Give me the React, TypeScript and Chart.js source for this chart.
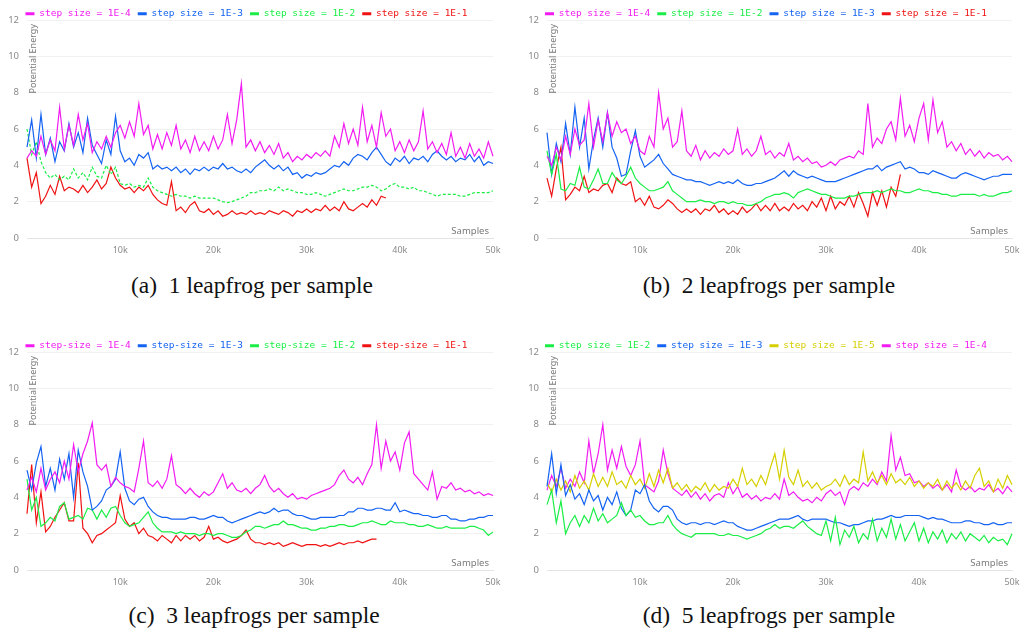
import React, { useEffect, useRef } from 'react';
import { Chart, registerables } from 'chart.js';
Chart.register(...registerables);

// sample spacing between the recorded points
const STEP = 500;
const X_TICKS = [10000, 20000, 30000, 40000, 50000];
const Y_MIN = 0;
const Y_MAX = 12;
const Y_STEP = 2;

const MAG = '#f21cf2';
const BLUE = '#1463f2';
const GREEN = '#1aee46';
const RED = '#f01212';
const YELLOW = '#d6cf00';

// (a) 1 leapfrog per sample
const A_M = [4.4,4.8,4.5,5.6,4.6,5.4,4.8,7.2,4.9,6.2,
 5.1,6.8,5.4,6.3,4.7,5.3,4.9,5.6,5.0,5.8,
 6.2,5.5,6.4,5.6,7.4,5.7,6.2,4.9,5.7,4.9,
 5.8,5.1,6.2,4.9,5.4,4.7,5.6,4.8,5.3,4.8,
 5.6,4.9,5.4,6.8,5.2,6.5,8.5,5.0,5.4,4.8,
 5.3,4.7,5.1,4.6,5.2,4.4,4.7,4.2,4.5,4.3,
 4.6,4.4,4.7,4.5,4.8,4.5,5.6,5.0,6.3,5.2,
 6.0,5.1,7.2,5.3,6.2,5.0,6.9,5.6,6.0,4.8,
 5.3,4.7,5.4,4.8,5.3,7.0,4.9,5.3,4.7,5.2,
 4.6,5.8,4.5,5.0,4.4,5.2,4.5,4.9,4.4,5.3,
 4.5,5.0,4.8];
const A_B = [5.0,6.5,4.4,6.8,4.6,5.5,4.2,5.3,4.8,6.3,
 5.0,5.8,4.7,6.6,5.1,4.6,4.1,5.4,4.6,6.7,
 4.8,4.2,4.4,4.0,4.6,4.4,4.7,3.8,4.0,3.8,
 3.9,3.7,3.9,3.6,3.8,3.5,3.8,3.7,3.9,3.7,
 3.9,3.8,4.1,3.8,3.9,3.7,3.6,3.8,3.6,3.9,
 4.1,4.3,4.0,3.8,4.0,3.7,3.9,3.5,3.6,3.3,
 3.5,3.4,3.6,3.5,3.6,3.8,4.0,3.9,4.2,4.0,
 4.4,4.6,4.5,4.3,4.7,5.0,4.6,4.2,4.0,4.4,
 4.2,4.5,4.1,4.4,4.3,4.5,4.2,4.6,4.8,4.5,
 4.3,4.5,4.2,4.4,4.3,4.6,4.2,4.5,4.0,4.2,
 4.1,4.3,4.4];
const A_G = [6.0,4.6,5.3,4.2,3.6,3.3,3.5,3.2,3.4,3.2,
 3.8,3.3,3.6,3.2,3.9,3.4,3.3,4.0,3.5,3.9,
 3.0,2.9,3.0,2.8,2.9,2.8,3.3,2.8,2.6,2.5,
 2.4,2.3,2.4,2.3,2.3,2.2,2.3,2.2,2.2,2.2,
 2.2,2.1,2.0,1.95,2.0,2.1,2.2,2.3,2.5,2.5,
 2.6,2.6,2.7,2.6,2.8,2.6,2.7,2.6,2.5,2.5,
 2.4,2.4,2.5,2.4,2.3,2.4,2.5,2.6,2.7,2.6,
 2.6,2.7,2.8,2.8,2.9,2.8,2.6,2.7,2.9,3.0,
 2.8,2.8,2.7,2.8,2.6,2.6,2.5,2.4,2.3,2.4,
 2.4,2.4,2.4,2.3,2.3,2.4,2.5,2.5,2.5,2.5,
 2.6,2.6,2.6];
const A_R = [4.4,2.8,3.6,1.9,2.3,2.9,2.4,3.4,2.6,2.8,
 2.7,2.5,2.9,2.5,2.8,3.2,2.7,3.0,3.9,3.3,
 2.9,2.7,2.8,2.5,2.8,2.6,2.9,2.4,2.1,1.9,
 1.8,3.1,1.5,1.7,1.4,1.8,2.0,1.5,1.4,1.6,
 1.3,1.5,1.2,1.3,1.5,1.3,1.4,1.3,1.5,1.3,
 1.4,1.3,1.5,1.4,1.3,1.5,1.4,1.2,1.5,1.4,
 1.6,1.4,1.6,1.5,1.8,1.5,1.7,1.5,2.0,1.6,
 1.5,1.7,1.9,1.7,2.1,1.8,2.3,2.2];

// (b) 2 leapfrogs per sample
const B_M = [4.5,4.0,5.0,4.3,5.6,4.6,6.0,5.1,5.4,7.4,
 5.0,6.5,5.3,6.9,5.6,6.4,5.8,6.0,5.2,5.6,
 4.8,4.6,5.6,5.0,8.0,6.0,6.6,5.0,5.3,7.0,
 4.8,4.5,5.1,4.3,4.8,4.4,4.7,4.5,4.9,4.6,
 4.8,6.0,4.6,4.9,4.5,4.8,5.6,4.6,4.8,4.4,
 4.7,4.5,5.2,4.3,4.5,4.2,4.4,4.1,4.2,3.9,
 4.0,4.2,4.0,4.3,4.4,4.5,4.4,4.8,4.6,7.4,
 5.0,5.5,5.2,6.0,6.4,5.4,7.7,5.6,6.2,5.3,
 6.6,7.4,5.4,7.6,5.8,6.4,5.0,5.3,4.8,5.2,
 4.6,4.9,4.5,4.8,4.4,4.7,4.5,4.6,4.3,4.5,
 4.2,4.4,4.3];
const B_G = [4.8,3.5,4.6,2.7,2.6,3.0,2.9,3.9,2.8,2.7,
 3.2,3.8,3.0,3.0,3.6,3.2,3.0,3.4,3.9,3.3,
 3.0,2.8,2.6,2.6,2.7,2.8,3.1,2.6,2.4,2.2,
 2.0,2.0,2.0,2.1,2.0,2.0,1.9,2.0,2.0,1.9,
 2.0,1.9,1.9,1.8,1.8,1.9,2.0,2.2,2.3,2.4,
 2.4,2.5,2.4,2.2,2.5,2.6,2.7,2.6,2.5,2.4,
 2.4,2.3,2.2,2.2,2.2,2.3,2.3,2.4,2.5,2.5,
 2.5,2.6,2.5,2.6,2.7,2.6,2.6,2.5,2.5,2.6,
 2.7,2.6,2.6,2.5,2.5,2.4,2.4,2.3,2.3,2.4,
 2.4,2.4,2.4,2.3,2.4,2.3,2.3,2.4,2.5,2.5,
 2.6,2.7,2.8];
const B_B = [5.8,3.5,5.2,4.2,6.3,4.6,7.2,5.0,6.6,3.8,
 5.4,6.6,5.0,6.9,5.0,4.4,3.4,3.5,4.8,5.9,
 4.5,3.9,4.1,4.3,4.6,4.1,3.8,3.5,3.4,3.3,
 3.2,3.2,3.1,3.1,3.0,2.9,3.0,3.1,3.0,3.1,
 3.0,3.2,3.0,2.9,2.9,3.0,3.0,3.1,3.2,3.3,
 3.5,3.7,3.4,3.7,3.5,3.4,3.3,3.4,3.3,3.2,
 3.1,3.1,3.1,3.2,3.3,3.4,3.5,3.6,3.7,3.8,
 3.8,4.0,3.7,3.9,4.0,4.1,4.2,3.8,3.9,3.8,
 3.6,3.6,3.5,3.7,3.6,3.5,3.4,3.3,3.3,3.5,
 3.6,3.5,3.4,3.3,3.2,3.3,3.4,3.4,3.5,3.5,
 3.5,3.6,3.6];
const B_R = [3.3,2.3,3.8,5.0,2.1,2.4,2.8,2.6,3.4,2.5,
 2.7,2.6,2.9,3.0,2.5,3.3,3.0,2.9,3.1,2.0,
 2.2,1.8,2.3,1.7,1.6,1.8,2.1,1.9,1.6,1.4,
 1.6,1.4,1.6,1.3,1.6,1.5,1.8,1.4,1.6,1.3,
 1.5,1.3,1.7,1.4,1.6,1.9,1.5,1.8,1.5,1.9,
 1.5,1.7,1.5,1.9,1.6,1.8,1.5,2.0,1.7,2.2,
 1.5,2.3,1.6,2.0,1.8,2.3,1.7,2.5,1.9,1.2,
 2.5,1.8,2.6,1.7,2.8,2.3,3.5];

// (c) 3 leapfrogs per sample
const C_M = [4.4,5.1,4.3,5.6,4.4,5.0,5.4,4.8,6.0,5.0,
 6.9,5.4,6.4,7.1,8.1,5.8,5.5,5.8,4.6,5.1,
 4.8,4.6,4.5,4.3,5.6,7.1,4.8,4.6,4.9,4.5,
 5.0,6.3,4.7,4.5,4.2,4.5,4.2,4.0,4.3,4.1,
 4.3,4.8,5.3,4.5,4.8,4.4,4.3,4.5,4.2,4.5,
 4.7,5.2,4.6,4.3,4.5,4.2,4.0,4.2,3.9,4.0,
 3.9,4.1,4.2,4.3,4.4,4.5,4.7,5.2,5.5,5.0,
 4.8,5.1,4.7,5.3,5.8,8.0,5.6,7.1,6.0,6.5,
 5.5,7.0,7.6,5.3,5.0,4.7,4.4,5.4,3.9,4.6,
 4.5,4.8,4.4,4.5,4.3,4.4,4.2,4.3,4.1,4.2,
 4.1,4.3,4.6];
const C_B = [5.5,4.4,5.9,6.8,4.6,5.6,4.4,6.1,5.0,6.4,
 4.0,6.6,5.4,4.6,3.3,3.5,3.8,4.4,4.6,5.0,
 6.5,4.5,3.8,3.6,3.9,4.0,3.5,3.2,3.0,2.9,
 2.9,2.8,2.8,2.8,2.8,2.9,2.9,2.8,2.8,2.9,
 3.0,2.9,2.9,2.7,2.6,2.7,2.8,2.9,3.0,3.1,
 3.2,3.1,3.2,3.4,3.2,3.3,3.3,3.1,3.0,3.0,
 2.9,2.8,2.8,2.9,2.9,2.9,2.9,3.0,3.0,3.2,
 3.2,3.4,3.4,3.3,3.3,3.4,3.4,3.3,3.3,3.7,
 3.2,3.3,3.2,3.1,3.1,3.0,3.0,2.9,2.9,3.0,
 3.0,2.8,2.8,2.7,2.7,2.8,2.8,2.9,2.9,3.0,
 3.0,3.0,3.0];
const C_G = [5.0,3.3,4.0,2.4,2.6,2.9,2.7,3.5,3.7,2.8,
 2.9,3.0,2.8,3.4,3.3,2.8,3.3,2.9,3.4,3.5,
 3.0,2.6,2.4,2.5,2.6,2.9,3.2,2.6,2.3,2.1,
 2.1,2.1,2.0,2.1,2.0,2.0,2.0,1.9,2.0,2.0,
 1.9,2.0,2.0,1.9,1.8,1.8,1.9,2.1,2.2,2.4,
 2.4,2.3,2.4,2.5,2.5,2.7,2.5,2.5,2.4,2.3,
 2.3,2.2,2.2,2.3,2.3,2.4,2.4,2.5,2.5,2.4,
 2.4,2.5,2.6,2.6,2.7,2.6,2.5,2.5,2.7,2.6,
 2.6,2.6,2.5,2.5,2.4,2.4,2.5,2.4,2.3,2.3,
 2.4,2.3,2.3,2.3,2.3,2.4,2.4,2.3,2.2,1.9,
 2.1,2.1,2.1];
const C_R = [3.1,5.8,2.6,4.3,2.1,2.4,2.9,3.3,3.7,2.7,
 2.7,5.9,2.3,2.0,1.5,1.9,2.0,2.2,2.4,2.6,
 4.1,2.8,2.4,2.6,2.0,2.3,1.9,1.8,1.6,1.9,
 1.7,1.5,1.9,1.6,1.9,1.7,1.9,1.6,1.8,2.4,
 1.7,1.8,1.6,1.5,1.6,1.7,1.9,2.2,1.7,1.5,
 1.5,1.4,1.5,1.4,1.5,1.3,1.4,1.5,1.4,1.3,
 1.4,1.4,1.4,1.3,1.4,1.3,1.4,1.5,1.4,1.5,
 1.5,1.6,1.5,1.6,1.7,1.7];

// (d) 5 leapfrogs per sample
const D_G = [3.6,4.4,2.6,3.8,2.0,2.6,3.0,2.4,3.0,2.6,
 3.4,2.7,3.1,2.6,2.8,3.0,3.7,3.0,3.3,2.9,
 3.0,2.7,2.5,2.5,2.6,2.6,3.0,2.5,2.2,2.0,
 1.9,1.8,2.0,2.0,2.0,2.0,2.0,1.9,1.9,2.0,
 1.9,1.9,1.8,1.7,1.8,1.9,2.0,2.2,2.3,2.5,
 2.3,2.4,2.4,2.3,2.5,2.7,2.4,2.2,2.0,1.9,
 2.7,1.6,2.9,1.4,2.2,1.8,2.4,1.5,2.0,1.7,
 2.8,1.6,2.3,1.8,2.8,1.7,2.5,1.6,2.1,2.6,
 1.6,2.3,1.5,2.1,1.7,2.2,1.5,2.0,1.7,2.1,
 1.6,2.0,1.8,1.6,1.9,1.5,1.8,1.6,1.7,1.4,
 2.0,1.5,2.0];
const D_B = [4.6,6.4,4.2,5.8,4.1,4.7,3.9,4.2,3.6,4.4,
 3.8,4.1,3.3,4.0,3.6,4.3,3.4,3.0,3.3,4.4,
 4.2,4.7,3.8,3.4,3.2,3.5,3.5,3.3,2.8,2.6,
 2.5,2.6,2.6,2.5,2.6,2.6,2.5,2.6,2.7,2.6,
 2.6,2.4,2.3,2.2,2.2,2.3,2.4,2.5,2.6,2.7,
 2.8,2.8,2.8,2.9,3.0,2.8,2.7,2.8,2.8,2.8,
 2.8,2.7,2.6,2.6,2.5,2.4,2.5,2.5,2.6,2.7,
 2.7,2.8,2.8,2.9,3.0,2.9,2.9,3.0,3.0,3.0,
 3.0,2.9,2.8,2.9,2.8,2.8,2.7,2.6,2.6,2.6,
 2.7,2.7,2.6,2.6,2.5,2.5,2.6,2.5,2.5,2.6,
 2.6,2.6,2.7];
const D_Y = [4.8,4.3,5.0,4.4,4.9,4.3,5.2,4.5,4.9,4.4,
 5.3,4.6,5.1,4.6,5.4,4.7,4.9,4.5,5.2,4.7,
 5.0,4.5,5.3,4.6,5.5,4.8,5.6,4.5,4.8,4.4,
 4.7,4.3,4.6,4.4,4.8,4.3,4.7,4.4,4.6,4.5,
 5.0,4.6,5.6,4.7,5.0,4.6,5.2,4.7,5.6,6.4,
 5.0,6.6,5.1,4.7,5.5,4.6,4.9,4.5,4.8,4.4,
 4.6,4.7,5.0,4.6,5.2,4.7,5.0,4.8,6.5,4.9,
 5.4,4.8,5.2,4.7,5.3,4.8,5.0,4.7,5.1,4.6,
 4.9,4.5,4.8,4.6,5.0,4.4,4.9,4.5,4.8,4.4,
 4.9,4.5,5.2,5.6,4.6,4.9,4.3,5.0,4.5,5.2,
 4.7,5.3,4.9];
const D_M = [4.4,5.2,4.6,5.6,4.5,5.0,4.6,5.4,4.8,7.1,
 5.3,6.4,8.0,5.5,6.6,5.6,6.8,5.7,5.2,5.8,
 7.1,4.7,4.5,4.3,4.9,6.6,5.3,4.5,4.3,4.1,
 4.4,4.0,4.3,3.9,4.2,3.8,4.1,4.2,4.0,4.8,
 4.2,4.6,4.0,4.2,3.9,4.1,3.8,4.0,3.9,4.2,
 3.9,5.0,4.1,4.3,4.0,3.8,3.9,3.7,4.0,3.8,
 4.2,4.4,4.1,4.3,3.6,4.4,4.6,4.4,4.8,4.6,
 5.0,4.7,5.4,4.9,7.4,5.5,6.2,5.2,5.3,4.8,
 4.9,4.6,4.8,4.5,4.7,4.4,4.7,4.3,5.5,4.6,
 4.4,4.6,4.3,4.5,4.4,4.7,4.3,4.5,4.2,4.6,
 4.3,4.4,4.3];

type Series = { label: string; values: number[]; color: string; dash?: number[] };

const PANELS: { left: number; top: number; width: number; capX: number; capY: number; caption: string; series: Series[] }[] = [
  { left: 0, top: 0, width: 510, capX: 252, capY: 285, caption: '(a)\u00a0 1 leapfrog per sample', series: [
    { label: 'step size = 1E-4', values: A_M, color: MAG },
    { label: 'step size = 1E-3', values: A_B, color: BLUE },
    { label: 'step size = 1E-2', values: A_G, color: GREEN, dash: [3, 2] },
    { label: 'step size = 1E-1', values: A_R, color: RED },
  ] },
  { left: 520, top: 0, width: 509, capX: 769, capY: 285, caption: '(b)\u00a0 2 leapfrogs per sample', series: [
    { label: 'step size = 1E-4', values: B_M, color: MAG },
    { label: 'step size = 1E-2', values: B_G, color: GREEN },
    { label: 'step size = 1E-3', values: B_B, color: BLUE },
    { label: 'step size = 1E-1', values: B_R, color: RED },
  ] },
  { left: 0, top: 332, width: 510, capX: 254, capY: 615, caption: '(c)\u00a0 3 leapfrogs per sample', series: [
    { label: 'step-size = 1E-4', values: C_M, color: MAG },
    { label: 'step-size = 1E-3', values: C_B, color: BLUE },
    { label: 'step-size = 1E-2', values: C_G, color: GREEN },
    { label: 'step-size = 1E-1', values: C_R, color: RED },
  ] },
  { left: 520, top: 332, width: 509, capX: 769, capY: 615, caption: '(d)\u00a0 5 leapfrogs per sample', series: [
    { label: 'step size = 1E-2', values: D_G, color: GREEN },
    { label: 'step size = 1E-3', values: D_B, color: BLUE },
    { label: 'step size = 1E-5', values: D_Y, color: YELLOW },
    { label: 'step size = 1E-4', values: D_M, color: MAG },
  ] },
];

const CANVAS_H = 258;

const axisText = {
  id: 'axisText',
  afterDraw(chart: any) {
    const { ctx, chartArea: a } = chart;
    ctx.save();
    ctx.fillStyle = '#7a7a7a';
    ctx.font = '9px "Noto Sans"';
    ctx.translate(a.left + 6, a.top + 4);
    ctx.rotate(-Math.PI / 2);
    ctx.textAlign = 'right';
    ctx.textBaseline = 'middle';
    ctx.fillText('Potential Energy', 0, 0);
    ctx.restore();
    ctx.save();
    ctx.fillStyle = '#7a7a7a';
    ctx.font = '9.5px "Noto Sans"';
    ctx.textAlign = 'right';
    ctx.textBaseline = 'middle';
    ctx.fillText('Samples', a.right - 4, a.bottom - 6.5);
    ctx.restore();
  },
};

function Panel({ p }: { p: typeof PANELS[number] }) {
  const ref = useRef<HTMLCanvasElement>(null);
  useEffect(() => {
    const chart = new Chart(ref.current!, {
      type: 'line',
      data: {
        datasets: p.series.map((s) => ({
          label: s.label,
          data: s.values.map((y, i) => ({ x: i * STEP, y })),
          borderColor: s.color,
          backgroundColor: s.color,
          borderWidth: 1.2,
          borderDash: s.dash || [],
          pointRadius: 0,
          tension: 0,
          fill: false,
          clip: false as any,
        })),
      },
      options: {
        animation: false,
        responsive: false,
        events: [],
        layout: { padding: { left: 0, right: 17, top: 2, bottom: 0 } },
        plugins: {
          tooltip: { enabled: false },
          legend: {
            position: 'top',
            maxHeight: 18,
            labels: {
              font: { family: 'DejaVu Sans Mono', size: 9.5 },
              boxWidth: 9,
              boxHeight: 3,
              padding: 7,
              generateLabels: (chart: any) =>
                Chart.defaults.plugins.legend.labels.generateLabels(chart).map((it: any) => ({
                  ...it,
                  fontColor: it.strokeStyle,
                  fillStyle: it.strokeStyle,
                  lineWidth: 0,
                  lineDash: [],
                })),
            },
          },
        },
        scales: {
          x: {
            type: 'linear',
            min: 0,
            max: 50000,
            afterBuildTicks: (scale: any) => {
              scale.ticks = X_TICKS.map((v) => ({ value: v }));
            },
            afterFit: (scale: any) => {
              scale.height = CANVAS_H - 238;
            },
            grid: { display: false, drawTicks: false },
            border: { display: true, color: '#e4e4e4' },
            ticks: {
              padding: 7,
              color: '#8a8a8a',
              font: { family: 'Noto Sans', size: 9 },
              maxRotation: 0,
              callback: (v: any) => `${Number(v) / 1000}k`,
            },
          },
          y: {
            min: Y_MIN,
            max: Y_MAX,
            afterFit: (scale: any) => {
              scale.width = 27;
            },
            grid: { color: '#f1f1f1', drawTicks: false },
            border: { display: false },
            ticks: {
              stepSize: Y_STEP,
              padding: 8,
              color: '#8a8a8a',
              font: { family: 'Noto Sans', size: 9.5 },
            },
          },
        },
      },
      plugins: [axisText],
    } as any);
    return () => chart.destroy();
  }, [p]);
  return (
    <canvas
      ref={ref}
      width={p.width}
      height={CANVAS_H}
      style={{ position: 'absolute', left: p.left, top: p.top, width: p.width, height: CANVAS_H, display: 'block' }}
    />
  );
}

export default function App() {
  return (
    <div style={{ position: 'absolute', left: 0, top: 0, width: 1021, height: 637, background: '#fff', overflow: 'hidden' }}>
      {PANELS.map((p, i) => (
        <React.Fragment key={i}>
          <Panel p={p} />
          <div
            style={{
              position: 'absolute',
              left: p.capX - 200,
              top: p.capY - 14,
              width: 400,
              height: 28,
              lineHeight: '28px',
              textAlign: 'center',
              fontFamily: '"Liberation Serif", "Times New Roman", serif',
              fontSize: 23.5,
              color: '#111',
              whiteSpace: 'pre',
            }}
          >
            {p.caption}
          </div>
        </React.Fragment>
      ))}
    </div>
  );
}
